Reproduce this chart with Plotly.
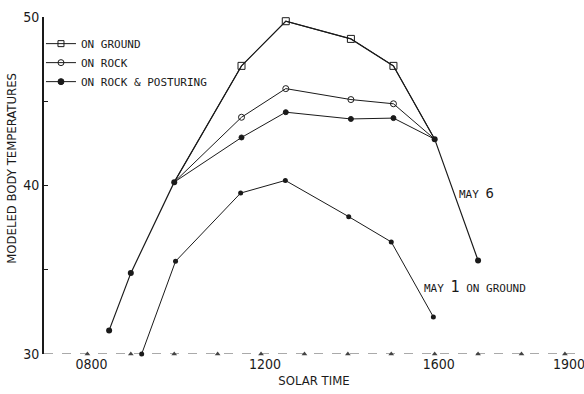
import plotly.graph_objects as go

# Solar time in decimal hours
t_may6_am = [8.5, 9.0, 10.0]
t_may6_mid = [11.55, 12.57, 14.07, 15.05]
t_may6_pm = [16.0, 17.0]
t_may1 = [9.25, 10.03, 11.53, 12.56, 14.02, 15.0, 15.97]

# Modeled body temperatures (May 6: shared morning / afternoon points, three midday branches)
may6_am = [31.4, 34.8, 40.2]
ground_mid = [47.1, 49.75, 48.7, 47.1]
rock_mid = [44.05, 45.75, 45.1, 44.85]
posture_mid = [42.85, 44.35, 43.95, 44.0]
may6_pm = [42.75, 35.55]
may1_ground = [30.0, 35.5, 39.55, 40.3, 38.15, 36.65, 32.2]

hour_ticks = list(range(8, 20))
x_tickvals = [8, 12, 16, 19]
x_ticktext = ["0800", "1200", "1600", "1900"]
y_tickvals = [30, 35, 40, 45, 50]
y_ticktext = ["30", "", "40", "", "50"]

INK = "#1a1a1a"
MONO = "DejaVu Sans Mono"
NARROW = "Liberation Sans Narrow, Arial Narrow, DejaVu Sans Condensed, sans-serif"

fig = go.Figure()

# hour tick marks along the time axis
fig.add_trace(go.Scatter(
    x=hour_ticks, y=[30] * len(hour_ticks), mode="markers",
    marker=dict(symbol="triangle-up", size=5, color="#444"),
    showlegend=False, hoverinfo="skip", cliponaxis=False))

# May 6 branches
fig.add_trace(go.Scatter(
    x=t_may6_am + t_may6_mid + t_may6_pm, y=may6_am + ground_mid + may6_pm,
    mode="lines", line=dict(color=INK, width=1.2), showlegend=False, cliponaxis=False))
for mid, sym, size in [(ground_mid, "square-open", 7), (rock_mid, "circle-open", 6),
                       (posture_mid, "circle", 5)]:
    fig.add_trace(go.Scatter(
        x=[t_may6_am[-1]] + t_may6_mid + [t_may6_pm[0]],
        y=[may6_am[-1]] + mid + [may6_pm[0]],
        mode="lines", line=dict(color=INK, width=1), showlegend=False))
    fig.add_trace(go.Scatter(
        x=t_may6_mid, y=mid, mode="markers",
        marker=dict(symbol=sym, size=size, color=INK, line=dict(color=INK, width=1)),
        showlegend=False))
fig.add_trace(go.Scatter(
    x=t_may6_am + t_may6_pm, y=may6_am + may6_pm, mode="markers",
    marker=dict(symbol="circle", size=6, color=INK), showlegend=False, cliponaxis=False))

# May 1 on ground
fig.add_trace(go.Scatter(
    x=t_may1, y=may1_ground, mode="lines+markers",
    line=dict(color=INK, width=1), marker=dict(symbol="circle", size=5, color=INK),
    showlegend=False, cliponaxis=False))

# legend entries
for name, sym in [("ON GROUND", "square-open"), ("ON ROCK", "circle-open"),
                  ("ON ROCK & POSTURING", "circle")]:
    fig.add_trace(go.Scatter(
        x=[None], y=[None], mode="lines+markers", name=name,
        line=dict(color=INK, width=1),
        marker=dict(symbol=sym, size=6, color=INK, line=dict(color=INK, width=1))))

# dashed time axis line
fig.add_shape(type="line", xref="paper", yref="y", x0=0, x1=1, y0=30, y1=30,
              line=dict(color="#555", width=1, dash="dash"), layer="below")

fig.add_annotation(x=16.52, y=39.55, xref="x", yref="y", xanchor="left", yanchor="middle",
                   text="MAY <span style='font-size:14px'>6</span>", showarrow=False,
                   font=dict(family=MONO, size=11, color=INK))
fig.add_annotation(x=15.71, y=33.98, xref="x", yref="y", xanchor="left", yanchor="middle",
                   text="MAY <span style='font-size:15px'>1</span> ON GROUND", showarrow=False,
                   font=dict(family=MONO, size=11, color=INK))
fig.add_annotation(x=-0.059, y=0.55, xref="paper", yref="paper", textangle=-90,
                   xanchor="center", yanchor="middle", showarrow=False,
                   text="MODELED BODY TEMPERATURES",
                   font=dict(family=NARROW, size=13, color=INK))

fig.update_layout(
    width=584, height=394,
    margin=dict(l=44, r=0, t=17, b=40),
    paper_bgcolor="white", plot_bgcolor="white",
    showlegend=True,
    legend=dict(x=-0.0056, y=0.964, xanchor="left", yanchor="top", bgcolor="rgba(0,0,0,0)",
                font=dict(family=MONO, size=11, color=INK), itemwidth=30),
    xaxis=dict(range=[7, 19.44], showgrid=False, zeroline=False, showline=False,
               tickvals=x_tickvals, ticktext=x_ticktext, ticks="", ticklabelshift=4,
               ticklabeloverflow="allow",
               tickfont=dict(family=NARROW, size=14, color=INK),
               title=dict(text="SOLAR TIME", font=dict(family=NARROW, size=13, color=INK),
                          standoff=4)),
    yaxis=dict(range=[30, 50], showgrid=False, zeroline=False, showline=True,
               linecolor=INK, linewidth=1.6, ticks="inside", ticklen=4, tickwidth=1,
               tickcolor=INK, tickvals=y_tickvals, ticktext=y_ticktext,
               tickfont=dict(family=NARROW, size=14, color=INK)),
)

fig.write_html("out.html")
